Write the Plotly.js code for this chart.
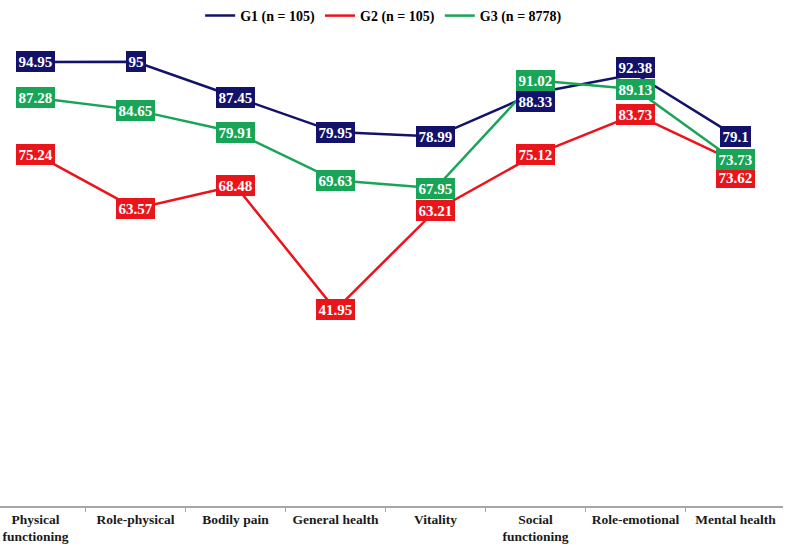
<!DOCTYPE html>
<html>
<head>
<meta charset="utf-8">
<script src="https://cdn.plot.ly/plotly-3.0.1.min.js"></script>
<style>html,body{margin:0;padding:0;background:#fff;}#chart{width:787px;height:549px;}</style>
</head>
<body>
<div id="chart"></div>
<script>
var categories = ["Physical<br>functioning", "Role-physical", "Bodily pain", "General health", "Vitality", "Social<br>functioning", "Role-emotional", "Mental health"];
var seriesNames = ["G1 (n = 105)", "G2 (n = 105)", "G3 (n = 8778)"];
var g1 = [94.95, 95, 87.45, 79.95, 78.99, 88.33, 92.38, 79.1];
var g2 = [75.24, 63.57, 68.48, 41.95, 63.21, 75.12, 83.73, 73.62];
var g3 = [87.28, 84.65, 79.91, 69.63, 67.95, 91.02, 89.13, 73.73];

// styling (not data)
var colors = ["#12126a", "#ea151b", "#19a557"];
var labelShift = [
  [0, 0, 0, 0, 0, -9, 6, 0],
  [0, 0, 0, 0, 0, 0, 0, -16],
  [0, 0, 0, 0, 0, 0, 0, 2]
];

var allSeries = [g1, g2, g3];
var traces = allSeries.map(function (vals, i) {
  return {
    type: "scatter",
    mode: "lines",
    x: categories,
    y: vals,
    name: seriesNames[i],
    line: {color: colors[i], width: 2.5},
    hoverinfo: "none"
  };
});

var annotations = [];
allSeries.forEach(function (vals, i) {
  vals.forEach(function (v, j) {
    annotations.push({
      x: categories[j],
      y: v,
      xref: "x",
      yref: "y",
      text: String(v),
      showarrow: false,
      xanchor: "center",
      yanchor: "middle",
      yshift: labelShift[i][j],
      bgcolor: colors[i],
      borderpad: 1.5,
      borderwidth: 1,
      bordercolor: colors[i],
      font: {family: "Liberation Serif, Times New Roman, serif", size: 15, color: "#ffffff", weight: "bold"}
    });
  });
});

var layout = {
  width: 787,
  height: 549,
  margin: {l: 0, r: 4, t: 0, b: 43},
  paper_bgcolor: "#ffffff",
  plot_bgcolor: "#ffffff",
  showlegend: true,
  legend: {
    orientation: "h",
    x: 0.49, xanchor: "center",
    y: 1.0, yanchor: "top",
    font: {family: "Liberation Serif, Times New Roman, serif", size: 14, color: "#000000", weight: "bold"},
    itemwidth: 30,
    tracegroupgap: 0
  },
  xaxis: {
    type: "category",
    range: [-0.355, 7.475],
    showline: true,
    linecolor: "#a6a6a6",
    linewidth: 1.5,
    ticks: "outside",
    tickson: "boundaries",
    ticklen: 4,
    tickcolor: "#a6a6a6",
    showgrid: false,
    zeroline: false,
    tickfont: {family: "Liberation Serif, Times New Roman, serif", size: 13.5, color: "#1a1a1a", weight: "bold"},
    fixedrange: true
  },
  yaxis: {
    range: [0, 108.2],
    visible: false,
    showgrid: false,
    zeroline: false,
    fixedrange: true
  },
  annotations: annotations
};

Plotly.newPlot("chart", traces, layout, {displayModeBar: false, staticPlot: true});
</script>
</body>
</html>
